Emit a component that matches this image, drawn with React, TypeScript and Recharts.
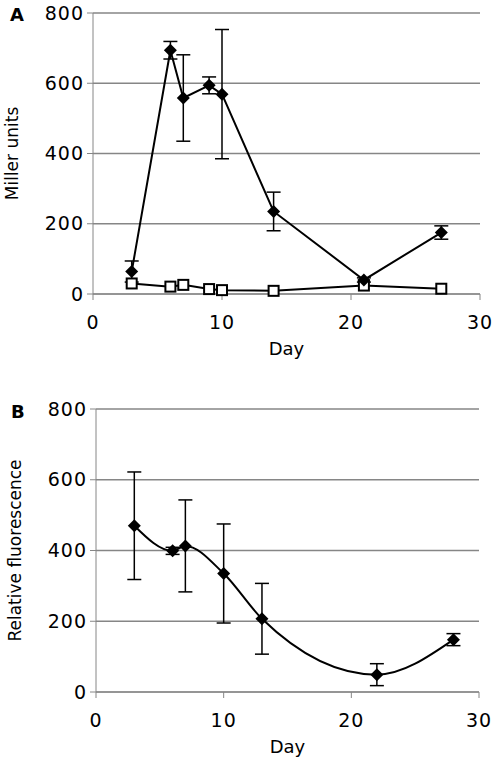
import { LineChart, Line, XAxis, YAxis, CartesianGrid, ErrorBar, Label } from "recharts";

// ─── Data ─────────────────────────────────────────────────────────────
const daysA = [3, 6, 7, 9, 10, 14, 21, 27];
const millerFilled = [64, 694, 558, 594, 569, 235, 40, 175];
const millerFilledErr = [30, 25, 123, 24, 184, 55, 6, 19];
const millerOpen = [30, 21, 26, 14, 11, 9, 24, 15];

const daysB = [3, 6, 7, 10, 13, 22, 28];
const fluorescence = [470, 399, 413, 335, 207, 49, 148];
const fluorescenceErr = [152, 10, 130, 140, 100, 31, 17];

const xTicks = [0, 10, 20, 30];
const yTicks = [0, 200, 400, 600, 800];

const tableA = daysA.map((d, i) => ({
  day: d,
  filled: millerFilled[i],
  filledErr: millerFilledErr[i],
  open: millerOpen[i],
}));

const tableB = daysB.map((d, i) => ({
  day: d,
  value: fluorescence[i],
  err: fluorescenceErr[i],
}));

// ─── Styles ───────────────────────────────────────────────────────────
const FONT = "DejaVu Sans";
const GRID = "#868686";
const tick = { fill: "#000", fontSize: 19, fontFamily: FONT, letterSpacing: 1 };
const labelStyle = { fontFamily: FONT, fontSize: 18, fill: "#000" };

const diamond = (p: any) => (
  <path
    key={`d-${p.index}`}
    d={`M${p.cx},${p.cy - 6.5}L${p.cx + 6.5},${p.cy}L${p.cx},${p.cy + 6.5}L${p.cx - 6.5},${p.cy}Z`}
    fill="#000"
  />
);

const square = (p: any) => (
  <rect key={`s-${p.index}`} x={p.cx - 5} y={p.cy - 5} width={10} height={10} fill="#fff" stroke="#000" strokeWidth={2} />
);

export default function App() {
  return (
    <div style={{ position: "absolute", left: 0, top: 0, width: 496, height: 763, background: "#fff" }}>
      <svg width={496} height={763} style={{ position: "absolute", left: 0, top: 0, pointerEvents: "none", zIndex: 2 }}>
        <text x={10} y={21} fontFamily={FONT} fontWeight="bold" fontSize={18}>A</text>
        <text x={11} y={418} fontFamily={FONT} fontWeight="bold" fontSize={18}>B</text>
      </svg>

      {/* Panel A */}
      <div style={{ position: "absolute", left: 0, top: 0 }}>
        <LineChart width={496} height={370} data={tableA} margin={{ top: 13, right: 16, left: 0, bottom: 15 }}>
          <CartesianGrid vertical={false} stroke={GRID} strokeWidth={1.3} />
          <XAxis type="number" dataKey="day" domain={[0, 30]} ticks={xTicks} height={61}
            tick={tick} tickSize={6} tickMargin={16} stroke={GRID}>
            <Label value="Day" position="insideBottom" offset={0} style={labelStyle} />
          </XAxis>
          <YAxis type="number" domain={[0, 800]} ticks={yTicks} width={93}
            tick={tick} tickSize={6} tickMargin={3} stroke={GRID}>
            <Label value="Miller units" angle={-90} position="insideLeft" offset={12}
              style={{ ...labelStyle, fontSize: 17, textAnchor: "middle" }} />
          </YAxis>
          <Line dataKey="open" stroke="#000" strokeWidth={2} dot={square} activeDot={false} isAnimationActive={false} />
          <Line dataKey="filled" stroke="#000" strokeWidth={2} dot={diamond} activeDot={false} isAnimationActive={false}>
            <ErrorBar dataKey="filledErr" direction="y" width={7} stroke="#000" strokeWidth={1.5} isAnimationActive={false} />
          </Line>
        </LineChart>
      </div>

      {/* Panel B */}
      <div style={{ position: "absolute", left: 0, top: 380 }}>
        <LineChart width={496} height={383} data={tableB} margin={{ top: 29, right: 17, left: 0, bottom: 10 }}>
          <CartesianGrid vertical={false} stroke={GRID} strokeWidth={1.3} />
          <XAxis type="number" dataKey="day" domain={[0, 30]} ticks={xTicks} height={61}
            tick={tick} tickSize={6} tickMargin={16} stroke={GRID}>
            <Label value="Day" position="insideBottom" offset={0} style={labelStyle} />
          </XAxis>
          <YAxis type="number" domain={[0, 800]} ticks={yTicks} width={96}
            tick={tick} tickSize={6} tickMargin={3} stroke={GRID}>
            <Label value="Relative fluorescence" angle={-90} position="insideLeft" offset={15}
              style={{ ...labelStyle, fontSize: 17, textAnchor: "middle" }} />
          </YAxis>
          <Line type="monotone" dataKey="value" stroke="#000" strokeWidth={2} dot={diamond} activeDot={false} isAnimationActive={false}>
            <ErrorBar dataKey="err" direction="y" width={7} stroke="#000" strokeWidth={1.5} isAnimationActive={false} />
          </Line>
        </LineChart>
      </div>
    </div>
  );
}
